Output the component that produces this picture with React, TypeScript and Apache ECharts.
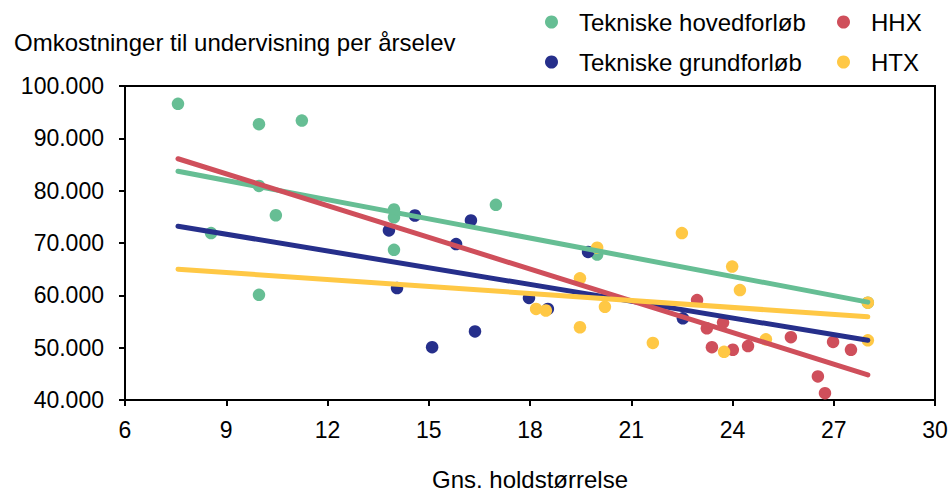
import React, { useEffect, useRef } from "react";
import * as echarts from "echarts";

const seriesNames = ["Tekniske hovedforløb", "Tekniske grundforløb", "HHX", "HTX"];
const seriesColors = ["#66be94", "#262f8b", "#cf4f5b", "#ffc845"];

const hovedforlobX = [7.57, 9.97, 11.24, 9.97, 8.55, 10.47, 9.97, 13.97, 13.97, 13.97, 16.99, 19.99, 28.01];
const hovedforlobY = [96600, 92700, 93400, 80900, 71900, 75300, 60100, 76400, 74900, 68700, 77300, 67800, 58600];

const grundforlobX = [13.82, 14.59, 14.06, 15.81, 16.25, 15.1, 16.37, 17.97, 18.53, 19.72, 22.53];
const grundforlobY = [72400, 75250, 61400, 69800, 74300, 50100, 53100, 59500, 57400, 68300, 55600];

const hhxX = [22.95, 23.24, 23.72, 23.39, 24.01, 24.46, 25.73, 26.98, 27.51, 26.53, 26.74];
const hhxY = [59100, 53700, 54800, 50100, 49600, 50300, 52000, 51100, 49600, 44500, 41300];

const htxX = [19.99, 19.48, 18.18, 18.47, 19.48, 20.22, 21.64, 22.5, 23.99, 24.22, 23.75, 24.99, 28.01, 28.01];
const htxY = [69100, 63250, 57400, 57100, 53900, 57800, 50900, 71900, 65500, 61000, 49200, 51600, 58600, 51400];

// trend lines: [x start, x end], [y start, y end]
const trendX = [7.57, 28.01];
const trendHovedforlobY = [83700, 58700];
const trendGrundforlobY = [73200, 51400];
const trendHhxY = [86100, 44800];
const trendHtxY = [65000, 55900];

const xTicks = { min: 6, max: 30, interval: 3 };
const yTicks = { min: 40000, max: 100000, interval: 10000 };

const titleText = "Omkostninger til undervisning per årselev";
const xAxisName = "Gns. holdstørrelse";

const FONT = "'Liberation Sans', Arial, Helvetica, sans-serif";

function zip(xs: number[], ys: number[]) {
  return xs.map((x, i) => [x, ys[i]]);
}

function fmtThousands(v: number) {
  return String(v).replace(/\B(?=(\d{3})+(?!\d))/g, ".");
}

export default function App() {
  const ref = useRef<HTMLDivElement>(null);
  useEffect(() => {
    if (!ref.current) return;
    const chart = echarts.init(ref.current, undefined, { renderer: "svg" });
    const scatterData = [
      zip(hovedforlobX, hovedforlobY),
      zip(grundforlobX, grundforlobY),
      zip(hhxX, hhxY),
      zip(htxX, htxY),
    ];
    const trendData = [trendHovedforlobY, trendGrundforlobY, trendHhxY, trendHtxY].map((ys) => zip(trendX, ys));

    const scatterSeries = seriesNames.map((name, i) => ({
      type: "scatter",
      name,
      data: scatterData[i],
      symbol: "circle",
      symbolSize: 12.5,
      itemStyle: { color: seriesColors[i], opacity: 1 },
      z: 2,
      silent: true,
    }));
    const lineSeries = seriesNames.map((name, i) => ({
      type: "line",
      name: name + " trend",
      data: trendData[i],
      showSymbol: false,
      symbol: "none",
      lineStyle: { color: seriesColors[i], width: 5, cap: "round" },
      itemStyle: { color: seriesColors[i] },
      z: 3 + i,
      silent: true,
    }));

    const legendCommon = {
      orient: "vertical",
      top: 5,
      itemWidth: 13,
      itemHeight: 13,
      itemGap: 16,
      icon: "circle",
      selectedMode: false,
      textStyle: {
        fontFamily: FONT,
        fontSize: 24,
        color: "#000",
        padding: [0, 0, 0, 16],
      },
    };

    chart.setOption({
      animation: false,
      textStyle: { fontFamily: FONT },
      title: {
        text: titleText,
        left: 9,
        top: 25,
        textStyle: { fontFamily: FONT, fontSize: 24, fontWeight: "normal", color: "#000" },
      },
      legend: [
        { ...legendCommon, left: 540, data: [seriesNames[0], seriesNames[1]] },
        { ...legendCommon, left: 832, data: [seriesNames[2], seriesNames[3]] },
      ],
      grid: {
        left: 125,
        right: 16,
        top: 86,
        bottom: 90,
        show: true,
        borderColor: "#000",
        borderWidth: 2,
        backgroundColor: "transparent",
      },
      xAxis: {
        type: "value",
        min: xTicks.min,
        max: xTicks.max,
        interval: xTicks.interval,
        name: xAxisName,
        nameLocation: "middle",
        nameGap: 67,
        nameTextStyle: { fontFamily: FONT, fontSize: 24, color: "#000" },
        axisLine: { show: true, lineStyle: { color: "#000", width: 2 } },
        axisTick: { show: true, length: 6, lineStyle: { color: "#000", width: 2 } },
        axisLabel: { fontFamily: FONT, fontSize: 23, color: "#000", margin: 18 },
        splitLine: { show: false },
      },
      yAxis: {
        type: "value",
        min: yTicks.min,
        max: yTicks.max,
        interval: yTicks.interval,
        axisLine: { show: true, lineStyle: { color: "#000", width: 2 } },
        axisTick: { show: true, length: 6, lineStyle: { color: "#000", width: 2 } },
        axisLabel: {
          fontFamily: FONT,
          fontSize: 23,
          color: "#000",
          margin: 21,
          formatter: (v: number) => fmtThousands(v),
        },
        splitLine: { show: false },
      },
      series: [...scatterSeries, ...lineSeries],
    });
    return () => chart.dispose();
  }, []);
  return (
    <div
      ref={ref}
      style={{ position: "fixed", left: 0, top: 0, width: 951, height: 496, background: "#fff" }}
    />
  );
}
